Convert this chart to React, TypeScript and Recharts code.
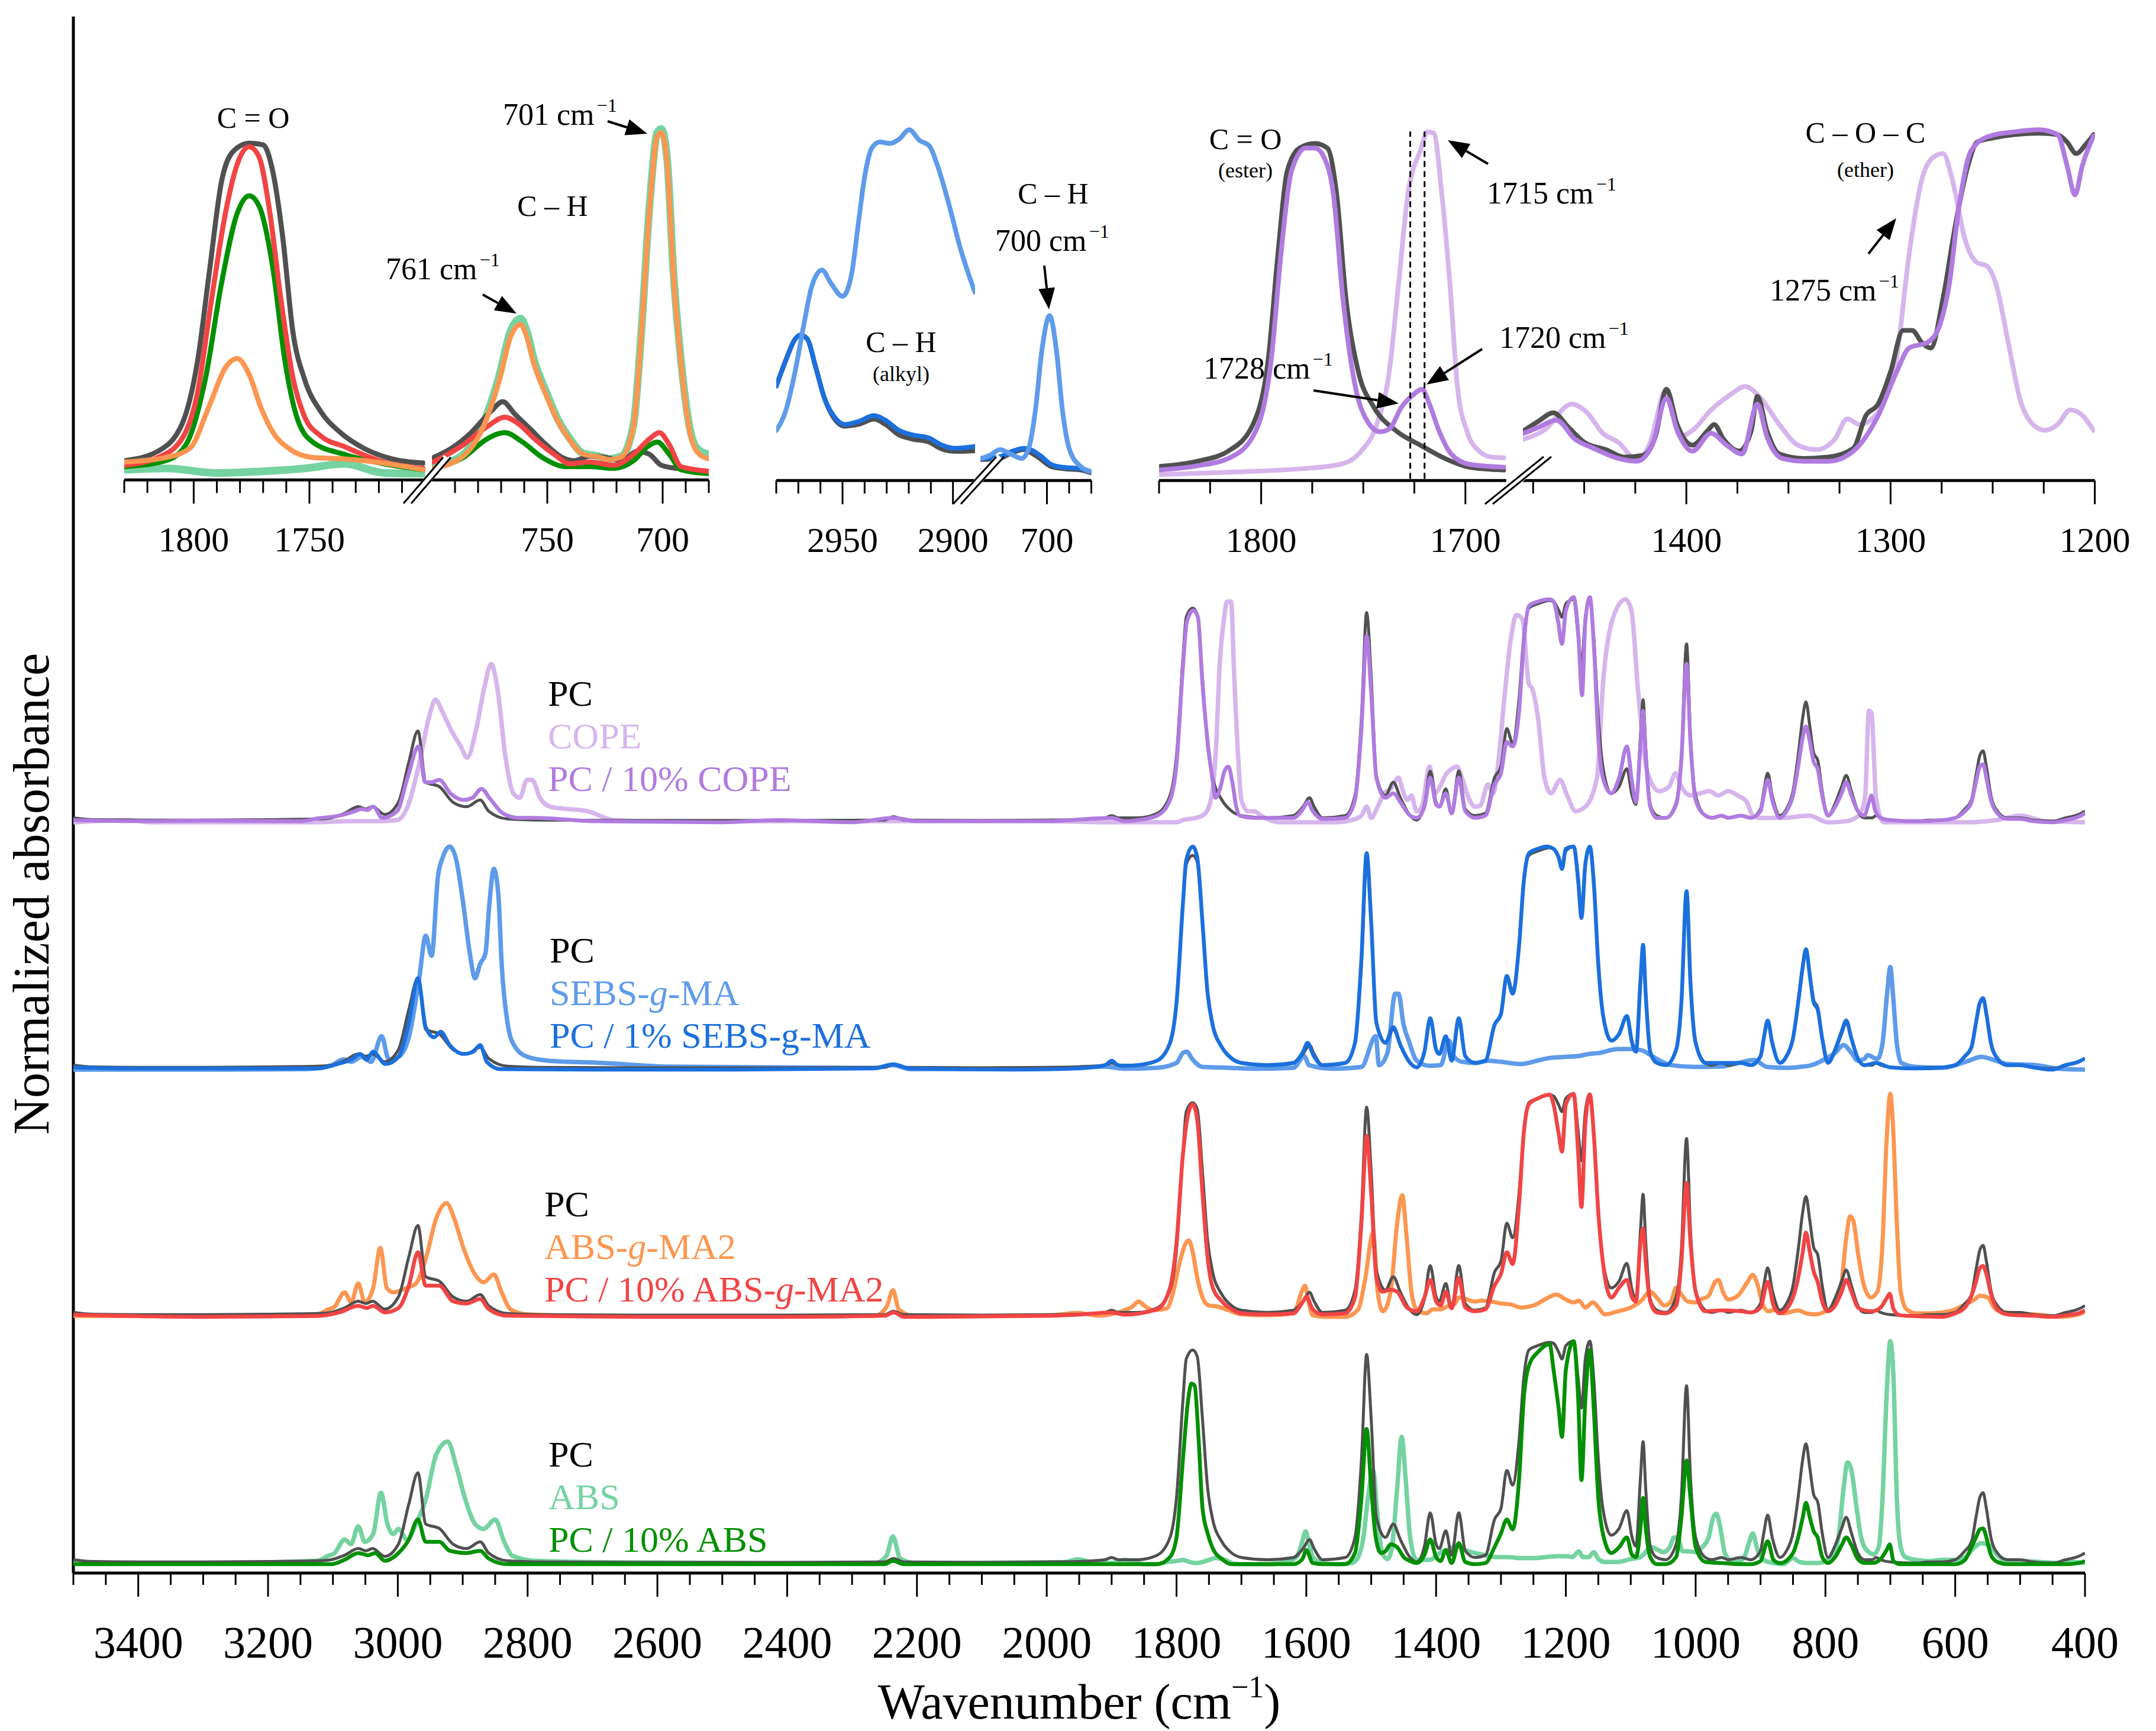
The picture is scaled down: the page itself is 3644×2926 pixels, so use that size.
import React from 'react';
import { LineChart, Line, XAxis, YAxis, ReferenceLine } from 'recharts';

type Pt = [number, number];

const FONT = "'Liberation Serif', 'Times New Roman', Times, serif";

const COLORS = {
  pc: '#505050',
  cope: '#D6B5EC',
  pcCope: '#B07BE0',
  sebs: '#5E9BEA',
  pcSebs: '#1B70DD',
  absgma: '#FC9650',
  pcAbsgma: '#F24444',
  abs: '#74D3A0',
  pcAbs: '#009000',
};

// ---------------- main spectra (normalized 0..1 within each group) ----------------
const pcSpectrum: Pt[] = [
  [3500, .02], [3470, .012], [3400, .01], [3300, .01], [3200, .012], [3124, .015], [3103, .02], [3082, .04], [3061, .07], [3049, .06], [3039, .07], [3020, .035], [2999, .09], [2983, .27], [2969, .41], [2957, .18], [2936, .16], [2915, .09], [2894, .07], [2873, .10], [2860, .05], [2831, .015], [2780, .01], [2600, .008], [2400, .008], [2250, .01], [2236, .025], [2220, .01], [2100, .008], [2000, .01], [1952, .012], [1910, .02], [1900, .03], [1890, .02],
  [1880, .02], [1860, .02], [1830, .04], [1810, .12], [1800, .30], [1790, .74], [1785, .92], [1775, .96], [1768, .93], [1760, .65], [1752, .34], [1745, .21], [1730, .10], [1715, .05], [1700, .03], [1660, .02], [1620, .03], [1605, .07], [1595, .11], [1588, .07], [1575, .02], [1540, .03], [1525, .12], [1515, .47], [1507, .94], [1500, .65], [1492, .21], [1478, .12], [1466, .18], [1455, .11], [1440, .03], [1430, .01], [1418, .08], [1409, .23], [1400, .09], [1395, .07], [1385, .15], [1376, .04], [1365, .23], [1355, .06], [1340, .03], [1324, .04], [1310, .20], [1300, .25], [1291, .42], [1282, .355], [1272, .56], [1265, .83], [1257, .96], [1243, .98], [1225, .995], [1219, .99], [1211, .95], [1206, .92], [1200, .98], [1188, 1.0], [1181, .83], [1176, .70], [1170, .92], [1163, 1.0], [1157, .83], [1150, .47], [1143, .25], [1130, .13], [1118, .16], [1106, .24], [1098, .12], [1092, .08], [1085, .39], [1081, .55], [1077, .34], [1070, .08], [1060, .03], [1046, .02], [1030, .09], [1022, .30], [1014, .80], [1008, .39], [1000, .12], [985, .03], [975, .02], [960, .03], [950, .02], [930, .03], [915, .02], [900, .06], [895, .14], [889, .22], [882, .12], [870, .03], [860, .06], [850, .14], [842, .30], [835, .47], [830, .54], [824, .43], [818, .31], [812, .28], [805, .14], [796, .03], [785, .085], [775, .16], [768, .21], [760, .14], [750, .05], [740, .02], [728, .02], [722, .03], [715, .02], [700, .01], [660, .005], [640, .01], [620, .01], [600, .02], [585, .06], [575, .10], [568, .21], [562, .30], [557, .32], [552, .25], [545, .12], [535, .05], [520, .02], [500, .02], [480, .01], [450, .005], [430, .02], [410, .035], [400, .05],
];

const copeSpectrum: Pt[] = [
  [3500, 0], [3416, .01], [3380, 0], [3278, 0], [3139, 0], [3066, .005], [3033, .005], [3001, .01], [2985, .07], [2968, .25], [2952, .47], [2942, .55], [2932, .50], [2919, .42], [2903, .34], [2893, .29], [2879, .42], [2867, .60], [2856, .71], [2846, .59], [2834, .29], [2822, .13], [2812, .11], [2801, .19], [2793, .19], [2781, .11], [2765, .07], [2740, .06], [2708, .05], [2667, .01], [2600, .005], [2400, .005], [2200, .005], [2000, .005], [1900, 0],
  [1880, 0], [1800, 0], [1790, .01], [1770, .02], [1760, .03], [1750, .07], [1740, .29], [1733, .73], [1727, .91], [1722, .99], [1716, .99], [1711, .65], [1705, .29], [1700, .10], [1690, .05], [1680, .05], [1670, .03], [1640, 0], [1560, 0], [1530, .01], [1515, .03], [1507, .07], [1500, .02], [1490, .07], [1480, .13], [1470, .15], [1458, .20], [1450, .13], [1444, .10], [1438, .12], [1430, .05], [1422, .07], [1410, .25], [1402, .13], [1394, .16], [1386, .21], [1376, .24], [1368, .25], [1360, .20], [1350, .11], [1340, .07], [1332, .075], [1320, .17], [1312, .13], [1303, .30], [1295, .55], [1285, .82], [1276, .93], [1267, .91], [1257, .62], [1252, .60], [1243, .47], [1233, .20], [1223, .13], [1209, .19], [1198, .12], [1185, .05], [1170, .07], [1152, .20], [1142, .65], [1123, .95], [1108, 1.0], [1099, .95], [1089, .60], [1075, .23], [1056, .14], [1041, .16], [1031, .22], [1022, .16], [1008, .12], [993, .13], [979, .14], [965, .12], [950, .14], [935, .12], [921, .09], [912, .03], [900, .02], [864, .02], [825, .03], [796, 0], [768, .005], [749, .03], [739, .11], [733, .50], [729, .49], [722, .11], [710, 0], [672, 0], [633, 0], [580, 0], [537, .01], [499, .03], [461, .005], [400, 0],
];

const pcCopeSpectrum: Pt[] = [
  [3500, .01], [3400, .005], [3300, .008], [3150, .005], [3123, .018], [3090, .03], [3066, .05], [3056, .06], [3047, .055], [3038, .07], [3024, .02], [3001, .05], [2985, .20], [2968, .34], [2958, .18], [2948, .18], [2936, .19], [2919, .13], [2899, .10], [2885, .11], [2871, .15], [2859, .11], [2838, .04], [2814, .02], [2789, .02], [2700, .005], [2500, 0], [2415, .01], [2300, 0], [2236, .02], [2200, .005], [2000, .005], [1900, .02],
  [1880, .005], [1860, .01], [1830, .03], [1810, .10], [1800, .26], [1790, .70], [1784, .90], [1774, .95], [1767, .92], [1760, .62], [1752, .36], [1745, .20], [1740, .11], [1733, .15], [1726, .23], [1720, .25], [1714, .18], [1708, .07], [1703, .03], [1680, .02], [1620, .02], [1605, .06], [1598, .09], [1590, .05], [1575, .015], [1540, .02], [1525, .10], [1515, .42], [1507, .835], [1500, .58], [1492, .20], [1478, .11], [1466, .13], [1455, .09], [1440, .03], [1430, .02], [1418, .07], [1409, .20], [1400, .08], [1395, .07], [1385, .13], [1376, .04], [1365, .20], [1355, .05], [1340, .02], [1324, .03], [1310, .17], [1300, .22], [1291, .36], [1282, .34], [1272, .50], [1265, .80], [1257, .97], [1243, .99], [1225, 1.0], [1219, .99], [1212, .90], [1206, .80], [1200, .95], [1188, 1.01], [1181, .85], [1175, .57], [1170, .90], [1163, 1.01], [1157, .80], [1150, .38], [1143, .20], [1130, .13], [1118, .20], [1106, .34], [1098, .18], [1092, .09], [1085, .35], [1081, .50], [1077, .30], [1070, .07], [1060, .02], [1046, .02], [1030, .08], [1022, .28], [1014, .71], [1008, .36], [1000, .10], [985, .03], [975, .02], [960, .03], [950, .02], [930, .03], [915, .02], [900, .05], [895, .12], [889, .19], [882, .10], [870, .02], [860, .05], [850, .12], [842, .25], [835, .38], [830, .43], [824, .36], [818, .27], [812, .24], [805, .12], [796, .03], [785, .07], [775, .13], [768, .18], [760, .12], [750, .05], [740, .03], [733, .09], [729, .12], [724, .06], [715, .02], [700, .01], [660, .005], [620, .01], [600, .02], [585, .05], [575, .09], [568, .18], [562, .25], [557, .26], [552, .20], [545, .10], [535, .04], [520, .015], [500, .015], [480, .005], [450, 0], [430, .01], [410, .025], [400, .04],
];

const sebsSpectrum: Pt[] = [
  [3500, 0], [3300, 0], [3145, .002], [3103, .018], [3084, .046], [3072, .035], [3056, .057], [3041, .035], [3025, .15], [3014, .046], [2999, .057], [2983, .145], [2967, .41], [2957, .60], [2948, .51], [2938, .87], [2931, .95], [2920, 1.0], [2910, .94], [2899, .74], [2889, .52], [2881, .41], [2873, .475], [2865, .52], [2859, .74], [2852, .90], [2845, .78], [2840, .475], [2831, .21], [2821, .11], [2800, .057], [2768, .04], [2685, .03], [2580, .013], [2266, .007], [2237, .02], [2210, .002], [2000, .005], [1910, .013],
  [1880, .004], [1830, .008], [1800, .03], [1790, .075], [1784, .08], [1776, .048], [1760, .012], [1720, .008], [1680, .004], [1620, .008], [1603, .06], [1596, .02], [1560, .004], [1515, .012], [1493, .15], [1488, .02], [1475, .075], [1463, .34], [1458, .34], [1450, .20], [1442, .128], [1430, .04], [1410, .017], [1393, .02], [1380, .13], [1372, .057], [1360, .035], [1340, .03], [1320, .04], [1300, .035], [1270, .025], [1240, .043], [1225, .052], [1200, .057], [1180, .061], [1165, .07], [1150, .074], [1120, .092], [1100, .092], [1085, .088], [1060, .048], [1040, .021], [1000, .012], [960, .014], [940, .025], [910, .043], [890, .012], [860, .008], [840, .012], [820, .021], [800, .048], [785, .075], [772, .11], [760, .075], [750, .04], [740, .048], [735, .065], [720, .048], [712, .118], [705, .34], [700, .46], [696, .34], [690, .118], [683, .03], [660, .012], [620, .008], [580, .039], [560, .057], [540, .043], [520, .025], [480, .021], [440, .004], [400, 0],
];

const pcSebsSpectrum: Pt[] = [
  [3500, .01], [3400, .005], [3300, .005], [3124, .005], [3093, .025], [3072, .045], [3058, .07], [3048, .045], [3038, .08], [3019, .025], [2999, .057], [2983, .21], [2969, .41], [2957, .19], [2944, .145], [2934, .17], [2920, .11], [2899, .07], [2884, .08], [2873, .11], [2863, .035], [2842, .002], [2700, 0], [2500, 0], [2266, .005], [2237, .024], [2210, .005], [2050, 0], [1952, .005], [1910, .02], [1900, .04], [1890, .02],
  [1880, .017], [1860, .02], [1830, .04], [1810, .12], [1800, .30], [1790, .75], [1785, .94], [1775, 1.0], [1768, .95], [1760, .66], [1752, .34], [1745, .21], [1730, .10], [1715, .05], [1700, .03], [1660, .02], [1620, .03], [1605, .08], [1598, .12], [1590, .07], [1575, .02], [1540, .03], [1525, .12], [1515, .50], [1507, .97], [1500, .66], [1492, .21], [1478, .12], [1466, .19], [1455, .11], [1440, .03], [1430, .01], [1418, .08], [1409, .23], [1400, .09], [1395, .07], [1385, .15], [1376, .04], [1365, .23], [1355, .06], [1340, .03], [1324, .04], [1310, .20], [1300, .25], [1291, .42], [1282, .34], [1272, .56], [1265, .84], [1257, .97], [1243, .99], [1230, 1.0], [1219, .99], [1211, .95], [1206, .90], [1200, .99], [1188, 1.0], [1181, .85], [1176, .68], [1170, .92], [1163, 1.0], [1157, .84], [1150, .47], [1143, .25], [1130, .13], [1118, .16], [1106, .24], [1098, .12], [1092, .08], [1085, .40], [1081, .56], [1077, .34], [1070, .08], [1060, .03], [1046, .02], [1030, .09], [1022, .30], [1014, .80], [1008, .39], [1000, .12], [985, .03], [960, .03], [930, .03], [915, .02], [900, .06], [895, .14], [889, .22], [882, .12], [870, .03], [860, .06], [850, .14], [842, .30], [835, .46], [830, .54], [824, .42], [818, .30], [812, .27], [805, .14], [796, .03], [785, .09], [775, .17], [768, .22], [760, .14], [750, .05], [740, .02], [722, .03], [700, .01], [660, .005], [620, .01], [600, .02], [585, .06], [575, .10], [568, .21], [562, .30], [557, .32], [552, .25], [545, .12], [535, .05], [520, .02], [500, .02], [480, .01], [450, 0], [430, .02], [410, .035], [400, .05],
];

const absgmaSpectrum: Pt[] = [
  [3500, .004], [3300, .004], [3124, .011], [3108, .033], [3098, .044], [3082, .11], [3072, .066], [3061, .15], [3051, .066], [3038, .13], [3027, .31], [3017, .13], [3007, .11], [2999, .115], [2986, .13], [2972, .15], [2957, .26], [2941, .44], [2925, .51], [2913, .44], [2899, .31], [2881, .19], [2868, .155], [2852, .19], [2840, .11], [2826, .033], [2800, .011], [2700, .004], [2400, .004], [2266, .004], [2247, .044], [2237, .12], [2228, .033], [2200, 0], [2000, .005], [1952, .018], [1920, .005],
  [1880, .03], [1870, .042], [1858, .069], [1850, .051], [1835, .03], [1815, .038], [1805, .113], [1795, .246], [1785, .334], [1781, .343], [1775, .29], [1768, .175], [1760, .087], [1750, .051], [1738, .047], [1720, .03], [1700, .011], [1660, .007], [1620, .016], [1607, .113], [1602, .14], [1596, .06], [1590, .007], [1570, 0], [1540, 0], [1520, .034], [1510, .157], [1497, .378], [1490, .113], [1482, .025], [1470, .113], [1460, .42], [1452, .546], [1446, .378], [1438, .113], [1430, .034], [1415, .016], [1405, .034], [1393, .034], [1380, .051], [1372, .056], [1365, .087], [1357, .082], [1340, .069], [1330, .073], [1315, .069], [1300, .06], [1285, .056], [1270, .042], [1250, .051], [1230, .082], [1215, .10], [1200, .078], [1188, .065], [1180, .073], [1170, .042], [1158, .065], [1150, .042], [1140, .011], [1120, .025], [1100, .042], [1085, .069], [1070, .113], [1060, .087], [1048, .051], [1038, .069], [1030, .131], [1025, .113], [1012, .069], [1000, .065], [992, .078], [980, .095], [970, .157], [965, .166], [958, .113], [950, .078], [935, .095], [920, .157], [912, .188], [905, .149], [898, .069], [888, .025], [875, .034], [865, .016], [850, .025], [842, .029], [830, .016], [815, .011], [800, .025], [790, .042], [782, .069], [775, .157], [768, .352], [762, .45], [757, .431], [750, .29], [742, .157], [730, .087], [720, .113], [712, .334], [706, .776], [700, 1.0], [696, .865], [690, .423], [684, .113], [675, .034], [660, .016], [640, .016], [620, .02], [600, .034], [585, .056], [570, .078], [562, .095], [550, .087], [540, .042], [525, .02], [500, .016], [470, .009], [440, 0], [410, .011], [400, .025],
];

const pcAbsgmaSpectrum: Pt[] = [
  [3500, .01], [3300, 0], [3124, .004], [3090, .02], [3061, .05], [3048, .04], [3038, .05], [3020, .02], [2999, .04], [2983, .14], [2969, .29], [2957, .14], [2936, .14], [2915, .07], [2894, .06], [2873, .08], [2860, .035], [2831, .005], [2600, 0], [2400, 0], [2250, .005], [2236, .02], [2220, 0], [2000, .005], [1952, .01], [1900, .02],
  [1880, .01], [1830, .034], [1810, .131], [1800, .334], [1790, .732], [1782, .909], [1775, .953], [1768, .882], [1760, .555], [1752, .263], [1745, .14], [1730, .069], [1715, .034], [1700, .016], [1660, .011], [1620, .016], [1605, .069], [1600, .091], [1590, .034], [1575, .011], [1540, .016], [1525, .087], [1515, .423], [1507, .812], [1500, .555], [1492, .175], [1483, .113], [1470, .122], [1460, .113], [1445, .042], [1430, .025], [1418, .087], [1409, .166], [1400, .069], [1393, .051], [1385, .113], [1376, .038], [1365, .175], [1355, .042], [1340, .025], [1324, .034], [1310, .14], [1300, .193], [1291, .29], [1282, .237], [1272, .511], [1265, .82], [1257, .953], [1243, .98], [1225, .997], [1219, .953], [1211, .82], [1206, .741], [1200, .953], [1188, 1.0], [1181, .732], [1176, .493], [1170, .865], [1163, .997], [1157, .82], [1150, .467], [1143, .246], [1130, .087], [1118, .131], [1106, .166], [1098, .087], [1092, .069], [1085, .334], [1081, .396], [1077, .246], [1070, .069], [1060, .02], [1046, .016], [1030, .051], [1022, .246], [1014, .60], [1008, .334], [1000, .113], [985, .025], [960, .029], [930, .025], [915, .02], [900, .042], [889, .157], [880, .051], [870, .016], [850, .087], [842, .175], [835, .29], [830, .378], [824, .29], [818, .202], [812, .157], [805, .069], [796, .025], [785, .051], [775, .113], [768, .166], [760, .113], [750, .042], [740, .029], [728, .025], [715, .042], [705, .087], [701, .104], [695, .034], [685, .007], [660, .003], [620, 0], [600, .016], [585, .042], [575, .095], [568, .157], [562, .219], [557, .228], [552, .193], [545, .104], [535, .034], [520, .011], [500, .007], [480, .005], [450, 0], [430, .007], [410, .016], [400, .029],
];

const absSpectrum: Pt[] = [
  [3500, .004], [3300, .004], [3124, .015], [3108, .037], [3098, .048], [3082, .11], [3072, .09], [3061, .17], [3051, .10], [3038, .135], [3026, .32], [3016, .18], [3007, .135], [2999, .158], [2986, .11], [2972, .18], [2957, .29], [2941, .49], [2923, .55], [2910, .44], [2896, .29], [2881, .18], [2868, .158], [2850, .20], [2836, .10], [2823, .037], [2789, .015], [2700, .009], [2400, .004], [2266, .004], [2247, .037], [2237, .125], [2226, .026], [2200, .004], [1973, .009], [1952, .022], [1931, .009], [1900, .005],
  [1880, .019], [1865, .01], [1850, 0], [1830, 0], [1815, .01], [1800, .014], [1790, .019], [1780, .01], [1770, .005], [1755, .014], [1740, .027], [1725, .019], [1710, .001], [1690, 0], [1660, 0], [1630, .01], [1615, .032], [1607, .094], [1601, .147], [1596, .094], [1590, .032], [1575, .005], [1550, 0], [1530, .005], [1520, .032], [1512, .12], [1505, .297], [1497, .42], [1490, .209], [1483, .05], [1475, .023], [1468, .076], [1460, .341], [1453, .571], [1447, .386], [1440, .12], [1430, .019], [1410, .019], [1390, .058], [1380, .067], [1375, .076], [1365, .08], [1355, .063], [1340, .05], [1325, .041], [1310, .032], [1290, .032], [1270, .027], [1250, .027], [1230, .032], [1212, .036], [1200, .036], [1190, .032], [1180, .058], [1174, .032], [1165, .032], [1157, .054], [1150, .023], [1140, .01], [1120, .01], [1100, .023], [1085, .032], [1068, .076], [1060, .067], [1050, .054], [1040, .076], [1033, .12], [1028, .12], [1020, .058], [1012, .058], [1000, .054], [990, .076], [980, .12], [973, .209], [968, .226], [962, .164], [955, .05], [945, .014], [935, .01], [925, .032], [918, .094], [912, .138], [905, .067], [895, .019], [880, .005], [865, 0], [850, .027], [840, .01], [825, .005], [810, .005], [800, .014], [790, .032], [780, .12], [772, .341], [766, .456], [760, .421], [752, .253], [745, .12], [735, .058], [725, .045], [718, .076], [712, .297], [706, .739], [700, 1.0], [695, .828], [690, .297], [684, .076], [677, .032], [660, .019], [640, .014], [620, .019], [600, .019], [585, .032], [570, .076], [560, .094], [548, .085], [540, .058], [525, .019], [500, .014], [470, .01], [440, .005], [420, .01], [400, .005],
];

const pcAbsSpectrum: Pt[] = [
  [3500, 0], [3103, 0], [3082, .02], [3061, .05], [3046, .04], [3035, .05], [3020, .015], [2999, .05], [2983, .11], [2969, .20], [2957, .10], [2936, .10], [2920, .06], [2894, .05], [2873, .06], [2860, .025], [2831, 0], [2600, 0], [2400, 0], [2250, 0], [2237, .015], [2220, 0], [1900, 0],
  [1880, 0], [1830, 0], [1810, .032], [1800, .12], [1790, .474], [1782, .739], [1777, .81], [1772, .80], [1766, .562], [1760, .253], [1752, .138], [1745, .076], [1730, .023], [1715, 0], [1700, 0], [1620, 0], [1606, .023], [1600, .063], [1590, .005], [1575, 0], [1540, 0], [1525, .05], [1515, .297], [1507, .607], [1500, .341], [1493, .12], [1485, .05], [1478, .058], [1470, .089], [1460, .076], [1450, .032], [1440, .014], [1430, .005], [1418, .041], [1409, .111], [1400, .032], [1393, .014], [1385, .063], [1376, .005], [1365, .094], [1355, .01], [1340, 0], [1324, .005], [1310, .076], [1300, .138], [1291, .20], [1282, .156], [1272, .386], [1265, .739], [1257, .889], [1243, .951], [1225, .987], [1219, .872], [1211, .695], [1206, .571], [1200, .872], [1188, 1.0], [1181, .739], [1176, .377], [1170, .739], [1163, .96], [1157, .695], [1150, .297], [1143, .138], [1130, .05], [1118, .076], [1106, .12], [1098, .041], [1092, .032], [1085, .164], [1081, .297], [1077, .164], [1070, .032], [1060, 0], [1046, 0], [1030, .032], [1022, .209], [1014, .465], [1008, .297], [1000, .076], [985, .01], [960, .005], [930, 0], [915, 0], [900, .014], [889, .103], [880, .019], [870, .005], [850, .05], [842, .12], [835, .209], [830, .275], [824, .209], [818, .147], [812, .12], [805, .032], [796, .005], [785, .032], [775, .085], [768, .12], [760, .085], [750, .023], [740, .005], [728, .005], [715, .023], [705, .067], [701, .089], [695, .014], [685, 0], [660, 0], [620, 0], [600, 0], [585, .019], [575, .076], [568, .12], [562, .156], [557, .16], [552, .12], [545, .041], [535, .01], [520, 0], [500, 0], [450, 0], [430, 0], [410, .005], [400, .014],
];

// ---------------- inset 1 (ABS blends: C=O and C-H) ----------------
const i1PcL: Pt[] = [[1829.6, .055], [1815.4, .082], [1805, .16], [1798.3, .34], [1793.1, .60], [1788, .85], [1782.9, .937], [1776, .96], [1770, .955], [1765.7, .875], [1761.5, .69], [1757.2, .425], [1752, .285], [1745.2, .196], [1736.6, .135], [1726.4, .09], [1714.4, .06], [1700.7, .048]];
const i1RedL: Pt[] = [[1829.6, .042], [1815.4, .064], [1805.1, .117], [1798.3, .25], [1792.3, .514], [1786.3, .76], [1781.2, .90], [1776, .95], [1771.7, .92], [1767.5, .78], [1762.3, .514], [1757.2, .294], [1752, .179], [1745.2, .126], [1734.9, .095], [1717.8, .051], [1700.7, .033]];
const i1GreenL: Pt[] = [[1829.6, .038], [1812, .055], [1803.4, .10], [1794.9, .29], [1788, .56], [1781.2, .76], [1776, .81], [1771.7, .78], [1765.7, .60], [1760.6, .34], [1755.5, .18], [1748.6, .108], [1734.9, .073], [1717.8, .046], [1700.7, .029]];
const i1OrangeL: Pt[] = [[1829.6, .051], [1812, .064], [1801.7, .09], [1793.1, .214], [1786.3, .32], [1781.2, .346], [1776, .30], [1770.9, .205], [1765.7, .135], [1758.9, .09], [1748.6, .064], [1734.9, .06], [1721.2, .051], [1700.7, .029]];
const i1AbsL: Pt[] = [[1829.6, .029], [1812, .033], [1789.7, .02], [1769.2, .025], [1752, .033], [1734.9, .046], [1717.8, .02], [1700.7, .018]];
const i1PcR: Pt[] = [[799.3, .064], [791.6, .09], [783, .135], [774.4, .196], [769.3, .223], [764.1, .188], [757.2, .144], [750.4, .10], [743.5, .064], [738.4, .055], [731.5, .068], [724.6, .064], [717.8, .055], [710.9, .082], [705.7, .073], [700.6, .042], [693.7, .033], [686.8, .029], [680, .02]];
const i1RedR: Pt[] = [[799.3, .051], [786.4, .10], [776.1, .152], [768.4, .179], [762.4, .16], [755.5, .117], [747, .073], [740.1, .046], [731.5, .051], [721.2, .042], [712.6, .073], [705.7, .117], [701.4, .135], [697.1, .10], [692, .038], [680, .025]];
const i1GreenR: Pt[] = [[799.3, .033], [786.4, .064], [776.1, .117], [768.4, .135], [760.7, .108], [752.1, .064], [741.8, .038], [731.5, .038], [721.2, .033], [712.6, .055], [706.6, .095], [702.3, .108], [697.1, .073], [692, .029], [680, .018]];
const i1AbsR: Pt[] = [[799.3, .038], [786.4, .073], [777.8, .16], [771, .293], [765.8, .426], [761.5, .46], [759, .426], [755.5, .337], [750.4, .25], [745.2, .17], [740.1, .117], [734.9, .077], [728.1, .068], [722.9, .06], [717.8, .068], [712.6, .16], [709.2, .426], [705.7, .78], [702.3, .99], [700.6, 1.0], [698, .91], [695.4, .60], [692, .337], [688.6, .16], [685.1, .09], [680, .073]];
const i1OrangeR: Pt[] = [[799.3, .033], [786.4, .068], [777.8, .15], [771, .28], [765.8, .41], [761.5, .443], [759, .41], [755.5, .325], [750.4, .24], [745.2, .165], [740.1, .112], [734.9, .075], [728.1, .066], [722.9, .058], [717.8, .066], [712.6, .155], [709.2, .42], [705.7, .77], [702.3, .98], [700.6, .99], [698, .90], [695.4, .59], [692, .33], [688.6, .15], [685.1, .08], [680, .06]];

// ---------------- inset 2 (SEBS blend: C-H alkyl and aromatic) ----------------
const i2SebsL: Pt[] = [[2980, .143], [2975.6, .201], [2971.5, .31], [2967.5, .445], [2963.9, .554], [2959.3, .60], [2955.2, .562], [2950, .525], [2945.9, .588], [2942.9, .73], [2939.8, .873], [2936.7, .948], [2933.1, .965], [2928.5, .961], [2924.4, .973], [2919.8, 1.0], [2915.2, .97], [2910.6, .953], [2907, .898], [2901.9, .789], [2896.7, .663], [2890.1, .537]];
const i2BlueL: Pt[] = [[2980, .269], [2975.6, .344], [2971.5, .403], [2969, .415], [2965.9, .403], [2962.3, .327], [2958.2, .235], [2954.1, .185], [2949, .16], [2942.9, .168], [2935.7, .185], [2930.6, .172], [2924.4, .143], [2918.3, .13], [2911.1, .122], [2905, .101], [2898.8, .092], [2890.1, .097]];
const i2PcL: Pt[] = [[2980, .269], [2975.6, .344], [2971.5, .403], [2969, .415], [2965.9, .403], [2962.3, .327], [2958.2, .235], [2954.1, .18], [2949, .155], [2942.9, .16], [2935.7, .175], [2930.6, .16], [2924.4, .13], [2918.3, .118], [2911.1, .11], [2905, .09], [2898.8, .083], [2890.1, .085]];
const i2SebsR: Pt[] = [[729.7, .063], [725.7, .072], [721.1, .088], [716.5, .076], [711.4, .063], [708.3, .09], [705.2, .20], [702.3, .37], [698.8, .47], [695.7, .37], [693, .20], [689.9, .09], [684.8, .04], [680, .025]];
const i2BlueR: Pt[] = [[729.7, .063], [721.6, .067], [715.4, .084], [710.3, .092], [707.3, .088], [703.2, .072], [698.1, .046], [693, .038], [684.8, .034], [680, .025]];
const i2PcR: Pt[] = [[729.7, .06], [721.6, .063], [715.4, .08], [710.3, .088], [707.3, .08], [703.2, .063], [698.1, .04], [693, .034], [684.8, .03], [680, .022]];

// ---------------- inset 3 (COPE blend: C=O ester and C-O-C ether) ----------------
const i3PcL: Pt[] = [[1850, .04], [1831.2, .055], [1816.1, .084], [1804, .16], [1796.4, .353], [1791.8, .646], [1787.3, .881], [1781.2, .948], [1773.6, .961], [1767.6, .948], [1763, .814], [1758.5, .52], [1752.4, .31], [1744.9, .21], [1734.2, .143], [1722.1, .101], [1710, .063], [1697.9, .038], [1681.2, .03]];
const i3PurpleL: Pt[] = [[1850, .03], [1831.2, .042], [1816.1, .063], [1804, .126], [1794.9, .353], [1790.3, .646], [1785.2, .881], [1778.2, .948], [1773.6, .948], [1769.1, .92], [1764.6, .814], [1760, .52], [1753.9, .268], [1747.9, .168], [1741.8, .139], [1737.3, .147], [1731.2, .21], [1725.8, .243], [1721.2, .26], [1717.6, .218], [1713, .143], [1707, .076], [1697.9, .046], [1681.2, .038]];
const i3CopeL: Pt[] = [[1850, .017], [1810, .025], [1779.7, .034], [1761.5, .046], [1751, .084], [1743.4, .16], [1737.3, .31], [1732.7, .562], [1728.2, .814], [1722.1, .94], [1718.5, .994], [1715.5, .99], [1711.5, .814], [1707.6, .562], [1703.9, .268], [1699.4, .143], [1693.3, .084], [1687.3, .067], [1681.2, .065]];
const i3PcR: Pt[] = [[1479.4, .143], [1472.7, .168], [1465.1, .193], [1457.6, .151], [1450, .109], [1439.4, .088], [1430.3, .067], [1421.2, .072], [1415.1, .126], [1409.7, .26], [1404.5, .16], [1397, .101], [1389.4, .143], [1386.4, .16], [1381.8, .118], [1374.2, .084], [1368.2, .143], [1365.2, .24], [1360.6, .143], [1354.5, .076], [1342.4, .063], [1330.3, .067], [1318.2, .092], [1312.1, .185], [1306.1, .218], [1300, .31], [1293.9, .428], [1289.4, .428], [1284.8, .394], [1280.3, .378], [1274.3, .52], [1268.2, .73], [1262.1, .898], [1257.6, .965], [1248.5, .978], [1239.4, .986], [1227.3, .99], [1218.2, .986], [1213.6, .965], [1209.1, .932], [1204.6, .957], [1200.6, .986]];
const i3PurpleR: Pt[] = [[1479.4, .135], [1472.7, .151], [1463.6, .172], [1454.5, .118], [1445.4, .092], [1433.3, .063], [1424.2, .055], [1416.7, .101], [1409.7, .235], [1404.5, .143], [1397, .084], [1387.9, .135], [1380.3, .101], [1372.7, .076], [1365.2, .218], [1360.6, .126], [1353, .063], [1342.4, .055], [1330.3, .055], [1318.2, .084], [1306.1, .185], [1297, .31], [1290.9, .378], [1281.8, .394], [1275.8, .445], [1271.2, .562], [1266.7, .772], [1260.6, .94], [1251.5, .982], [1239.4, .994], [1227.3, 1.0], [1218.2, .986], [1213.6, .898], [1209.7, .814], [1206.1, .898], [1200.6, .982]];
const i3CopeR: Pt[] = [[1479.4, .118], [1469.7, .143], [1456.1, .218], [1448.5, .193], [1440.9, .135], [1433.3, .109], [1424.2, .059], [1418.2, .101], [1409.7, .26], [1403, .126], [1397, .143], [1387.9, .201], [1378.8, .243], [1371.2, .268], [1363.6, .235], [1354.5, .16], [1345.4, .101], [1336.4, .088], [1327.3, .118], [1321.2, .176], [1315.2, .16], [1309.1, .176], [1303, .227], [1297, .352], [1290.9, .646], [1284.8, .856], [1278.8, .923], [1274.3, .932], [1269.7, .856], [1263.6, .688], [1257.6, .621], [1253, .612], [1248.5, .562], [1242.4, .394], [1236.4, .227], [1230.3, .16], [1224.3, .143], [1218.2, .16], [1212.1, .201], [1207.6, .193], [1200.6, .143]];

// ---------------- ticks ----------------
const mainTicks = [3500, 3450, 3400, 3350, 3300, 3250, 3200, 3150, 3100, 3050, 3000, 2950, 2900, 2850, 2800, 2750, 2700, 2650, 2600, 2550, 2500, 2450, 2400, 2350, 2300, 2250, 2200, 2150, 2100, 2050, 2000, 1950, 1900, 1850, 1800, 1750, 1700, 1650, 1600, 1550, 1500, 1450, 1400, 1350, 1300, 1250, 1200, 1150, 1100, 1050, 1000, 950, 900, 850, 800, 750, 700, 650, 600, 550, 500, 450, 400];
const mainMajorTicks = [3400, 3200, 3000, 2800, 2600, 2400, 2200, 2000, 1800, 1600, 1400, 1200, 1000, 800, 600, 400];
const i1LeftTicks = [1830, 1820, 1810, 1800, 1790, 1780, 1770, 1760, 1750, 1740, 1730, 1720, 1710];
const i1LeftMajor = [1800, 1750];
const i1RightTicks = [790, 780, 770, 760, 750, 740, 730, 720, 710, 700, 690, 680];
const i1RightMajor = [750, 700];
const i2LeftTicks = [2980, 2970, 2960, 2950, 2940, 2930, 2920, 2910, 2900];
const i2LeftMajor = [2950, 2900];
const i2RightTicks = [720, 710, 700, 690, 680];
const i2RightMajor = [700];
const i3LeftTicks = [1850, 1825, 1800, 1775, 1750, 1725, 1700];
const i3LeftMajor = [1800, 1700];
const i3RightTicks = [1475, 1450, 1425, 1400, 1375, 1350, 1325, 1300, 1275, 1250, 1225, 1200];
const i3RightMajor = [1400, 1300, 1200];
const i3Markers = [1727, 1720];

// ---------------- layout ----------------
const W = 3644;
const H = 2926;
const PLOT_LEFT = 124;
const PLOT_RIGHT = 3524;
const PLOT_TOP = 28;
const PLOT_BOTTOM = 2659;
const GROUP_SCALE = 377;
const BASE = { cope: 1269, sebs: 851, absgma: 433, abs: 15 };
const INSET_UNIT = 593;

const toRows = (pts: Pt[], base = 0, scale = 1) => pts.map(([x, v]) => ({ x, y: base + v * scale }));

const renderTick = (majors: number[], majorLen: number, minorLen: number, fontSize: number, labelDy: number) =>
  (props: any) => {
    const { x, y, payload } = props;
    const v = payload ? payload.value : 0;
    const isMajor = majors.includes(v);
    return (
      <g>
        <line x1={x} x2={x} y1={y} y2={y + (isMajor ? majorLen : minorLen)} stroke="#000" strokeWidth={3} />
        {isMajor ? (
          <text x={x} y={y + labelDy} textAnchor="middle" fontSize={fontSize} fontFamily={FONT} fill="#000">{v}</text>
        ) : null}
      </g>
    );
  };

type SeriesDef = { name: string; pts: Pt[]; base: number; color: string; w: number };

const mainSeries: SeriesDef[] = [
  { name: 'COPE', pts: copeSpectrum, base: BASE.cope, color: COLORS.cope, w: 7.5 },
  { name: 'PC-a', pts: pcSpectrum, base: BASE.cope, color: COLORS.pc, w: 5 },
  { name: 'PC / 10% COPE', pts: pcCopeSpectrum, base: BASE.cope, color: COLORS.pcCope, w: 6.5 },
  { name: 'SEBS-g-MA', pts: sebsSpectrum, base: BASE.sebs, color: COLORS.sebs, w: 7.5 },
  { name: 'PC-b', pts: pcSpectrum, base: BASE.sebs, color: COLORS.pc, w: 5 },
  { name: 'PC / 1% SEBS-g-MA', pts: pcSebsSpectrum, base: BASE.sebs, color: COLORS.pcSebs, w: 6.5 },
  { name: 'ABS-g-MA2', pts: absgmaSpectrum, base: BASE.absgma, color: COLORS.absgma, w: 7 },
  { name: 'PC-c', pts: pcSpectrum, base: BASE.absgma, color: COLORS.pc, w: 5 },
  { name: 'PC / 10% ABS-g-MA2', pts: pcAbsgmaSpectrum, base: BASE.absgma, color: COLORS.pcAbsgma, w: 6.5 },
  { name: 'ABS', pts: absSpectrum, base: BASE.abs, color: COLORS.abs, w: 7.5 },
  { name: 'PC-d', pts: pcSpectrum, base: BASE.abs, color: COLORS.pc, w: 5 },
  { name: 'PC / 10% ABS', pts: pcAbsSpectrum, base: BASE.abs, color: COLORS.pcAbs, w: 6.5 },
];

type InsetSeries = { name: string; pts: Pt[]; color: string; w: number };

function Inset(props: {
  x0: number; x1: number; axisY: number; domain: [number, number];
  ticks: number[]; majors: number[]; series: InsetSeries[]; markers?: number[];
}) {
  const { x0, x1, axisY, domain, ticks, majors, series, markers } = props;
  const pad = 70;
  const plotH = 1.1 * INSET_UNIT;
  const top = axisY - plotH;
  const bottomPad = 150;
  return (
    <div style={{ position: 'absolute', left: x0 - pad, top }}>
      <LineChart width={x1 - x0 + 2 * pad} height={plotH + bottomPad} margin={{ top: 0, right: pad, bottom: 0, left: pad }}>
        <XAxis
          type="number" dataKey="x" domain={domain} reversed allowDataOverflow
          ticks={ticks} interval={0} tickSize={0} tickMargin={0} height={bottomPad}
          axisLine={{ stroke: '#000', strokeWidth: 5 }} tickLine={false}
          tick={renderTick(majors, 40, 22, 60, 121)}
        />
        <YAxis hide type="number" domain={[0, 1.1]} allowDataOverflow />
        {series.map((s) => (
          <Line key={s.name} data={toRows(s.pts)} dataKey="y" type="monotone" stroke={s.color} strokeWidth={s.w}
            dot={false} activeDot={false} isAnimationActive={false} strokeLinejoin="round" strokeLinecap="round" />
        ))}
        {(markers || []).map((m) => (
          <ReferenceLine key={m} segment={[{ x: m, y: 0.005 }, { x: m, y: 0.995 }]} stroke="#000" strokeWidth={3} strokeDasharray="10 7" ifOverflow="visible" />
        ))}
      </LineChart>
    </div>
  );
}

function Arrow({ x1, y1, x2, y2 }: { x1: number; y1: number; x2: number; y2: number }) {
  const a = Math.atan2(y2 - y1, x2 - x1);
  const L = 36;
  const hw = 14;
  const bx = x2 - L * Math.cos(a);
  const by = y2 - L * Math.sin(a);
  const px = -Math.sin(a) * hw;
  const py = Math.cos(a) * hw;
  return (
    <g>
      <line x1={x1} y1={y1} x2={bx} y2={by} stroke="#000" strokeWidth={4} />
      <polygon points={`${x2},${y2} ${bx + px},${by + py} ${bx - px},${by - py}`} fill="#000" />
    </g>
  );
}

function BreakMark({ x1, y1, x2, y2 }: { x1: number; y1: number; x2: number; y2: number }) {
  const g = 13;
  return (
    <g>
      <line x1={x1 + g / 2} y1={y1} x2={x2 + g / 2} y2={y2} stroke="#fff" strokeWidth={g} />
      <line x1={x1} y1={y1} x2={x2} y2={y2} stroke="#000" strokeWidth={3} />
      <line x1={x1 + g} y1={y1} x2={x2 + g} y2={y2} stroke="#000" strokeWidth={3} />
    </g>
  );
}

function Cm({ x, y, value, size }: { x: number; y: number; value: string; size: number }) {
  return (
    <text x={x} y={y} fontSize={size} fontFamily={FONT} fill="#000">
      {value} cm<tspan dx={4} dy={-size * 0.42} fontSize={size * 0.62}>−1</tspan>
    </text>
  );
}

const legendGroups = [
  { x: 926, y: 1193, lines: [{ t: 'PC', c: '#000' }, { t: 'COPE', c: COLORS.cope }, { t: 'PC / 10% COPE', c: COLORS.pcCope }] },
  { x: 929, y: 1627, lines: [{ t: 'PC', c: '#000' }, { t: 'SEBS-|g|-MA', c: COLORS.sebs }, { t: 'PC / 1% SEBS-g-MA', c: COLORS.pcSebs }] },
  { x: 920, y: 2056, lines: [{ t: 'PC', c: '#000' }, { t: 'ABS-|g|-MA2', c: COLORS.absgma }, { t: 'PC / 10% ABS-|g|-MA2', c: COLORS.pcAbsgma }] },
  { x: 927, y: 2479, lines: [{ t: 'PC', c: '#000' }, { t: 'ABS', c: COLORS.abs }, { t: 'PC / 10% ABS', c: COLORS.pcAbs }] },
];

function LegendText({ x, y, t, c }: { x: number; y: number; t: string; c: string }) {
  const parts = t.split('|');
  return (
    <text x={x} y={y} fontSize={62} fontFamily={FONT} fill={c}>
      {parts.map((p, i) => (
        <tspan key={i} fontStyle={i % 2 === 1 ? 'italic' : 'normal'}>{p}</tspan>
      ))}
    </text>
  );
}

export default function App() {
  return (
    <div style={{ position: 'absolute', left: 0, top: 0, width: W, height: H, background: '#fff', overflow: 'hidden' }}>
      <div style={{ position: 'absolute', left: 0, top: 0 }}>
        <LineChart width={W} height={H} margin={{ top: PLOT_TOP, right: W - PLOT_RIGHT, bottom: H - PLOT_BOTTOM - 200, left: PLOT_LEFT }}>
          <XAxis
            type="number" dataKey="x" domain={[400, 3500]} reversed allowDataOverflow
            ticks={mainTicks} interval={0} tickSize={0} tickMargin={0} height={200}
            axisLine={{ stroke: '#000', strokeWidth: 5 }} tickLine={false}
            tick={renderTick(mainMajorTicks, 40, 20, 76, 143)}
          />
          <YAxis hide type="number" domain={[0, PLOT_BOTTOM - PLOT_TOP]} allowDataOverflow />
          <ReferenceLine x={3500} stroke="#000" strokeWidth={5} ifOverflow="visible" />
          {mainSeries.map((s) => (
            <Line key={s.name} data={toRows(s.pts, s.base, GROUP_SCALE)} dataKey="y" type="monotone" stroke={s.color}
              strokeWidth={s.w} dot={false} activeDot={false} isAnimationActive={false} strokeLinejoin="round" />
          ))}
        </LineChart>
      </div>

      <Inset x0={209.9} x1={718.5} axisY={811} domain={[1700, 1830]} ticks={i1LeftTicks} majors={i1LeftMajor}
        series={[
          { name: 'ABS', pts: i1AbsL, color: COLORS.abs, w: 13 },
          { name: 'PC', pts: i1PcL, color: COLORS.pc, w: 8.5 },
          { name: 'PC/ABS', pts: i1GreenL, color: COLORS.pcAbs, w: 8.5 },
          { name: 'PC/ABS-g-MA2', pts: i1RedL, color: COLORS.pcAbsgma, w: 8.5 },
          { name: 'ABS-g-MA2', pts: i1OrangeL, color: COLORS.absgma, w: 8.5 },
        ]} />
      <Inset x0={729.7} x1={1197.7} axisY={811} domain={[680, 800]} ticks={i1RightTicks} majors={i1RightMajor}
        series={[
          { name: 'ABS', pts: i1AbsR, color: COLORS.abs, w: 13 },
          { name: 'PC', pts: i1PcR, color: COLORS.pc, w: 8.5 },
          { name: 'PC/ABS', pts: i1GreenR, color: COLORS.pcAbs, w: 8.5 },
          { name: 'PC/ABS-g-MA2', pts: i1RedR, color: COLORS.pcAbsgma, w: 8.5 },
          { name: 'ABS-g-MA2', pts: i1OrangeR, color: COLORS.absgma, w: 8.5 },
        ]} />
      <Inset x0={1312} x1={1648} axisY={812} domain={[2890, 2980]} ticks={i2LeftTicks} majors={i2LeftMajor}
        series={[
          { name: 'PC', pts: i2PcL, color: COLORS.pc, w: 8 },
          { name: 'PC/SEBS', pts: i2BlueL, color: COLORS.pcSebs, w: 8 },
          { name: 'SEBS', pts: i2SebsL, color: COLORS.sebs, w: 8 },
        ]} />
      <Inset x0={1656.5} x1={1844} axisY={812} domain={[680, 730]} ticks={i2RightTicks} majors={i2RightMajor}
        series={[
          { name: 'PC', pts: i2PcR, color: COLORS.pc, w: 8 },
          { name: 'PC/SEBS', pts: i2BlueR, color: COLORS.pcSebs, w: 8 },
          { name: 'SEBS', pts: i2SebsR, color: COLORS.sebs, w: 8 },
        ]} />
      <Inset x0={1958.8} x1={2545.6} axisY={812} domain={[1680, 1850]} ticks={i3LeftTicks} majors={i3LeftMajor} markers={i3Markers}
        series={[
          { name: 'COPE', pts: i3CopeL, color: COLORS.cope, w: 8 },
          { name: 'PC', pts: i3PcL, color: COLORS.pc, w: 8 },
          { name: 'PC/COPE', pts: i3PurpleL, color: COLORS.pcCope, w: 8 },
        ]} />
      <Inset x0={2573.8} x1={3540.4} axisY={812} domain={[1200, 1480]} ticks={i3RightTicks} majors={i3RightMajor}
        series={[
          { name: 'COPE', pts: i3CopeR, color: COLORS.cope, w: 8 },
          { name: 'PC', pts: i3PcR, color: COLORS.pc, w: 8 },
          { name: 'PC/COPE', pts: i3PurpleR, color: COLORS.pcCope, w: 8 },
        ]} />

      <svg width={W} height={H} style={{ position: 'absolute', left: 0, top: 0, pointerEvents: 'none' }}>
        {/* axis titles */}
        <text transform="translate(82,1511) rotate(-90)" textAnchor="middle" fontSize={86} fontFamily={FONT} fill="#000">Normalized absorbance</text>
        <text x={1824} y={2905} textAnchor="middle" fontSize={84} fontFamily={FONT} fill="#000">
          Wavenumber (cm<tspan dy={-36} fontSize={52}>−1</tspan><tspan dy={36}>)</tspan>
        </text>

        {/* legends */}
        {legendGroups.map((g, gi) => (
          <g key={gi}>
            {g.lines.map((l, li) => (
              <LegendText key={li} x={g.x} y={g.y + li * 72} t={l.t} c={l.c} />
            ))}
          </g>
        ))}

        {/* break marks */}
        <BreakMark x1={682} y1={851} x2={749} y2={773} />
        <BreakMark x1={1611} y1={852} x2={1684} y2={772} />
        <BreakMark x1={2510} y1={852} x2={2609} y2={772} />

        {/* inset 1 annotations */}
        <text x={428} y={216} textAnchor="middle" fontSize={50} fontFamily={FONT}>C = O</text>
        <text x={934} y={365} textAnchor="middle" fontSize={50} fontFamily={FONT}>C – H</text>
        <Cm x={652} y={472} value="761" size={52} />
        <Arrow x1={816} y1={498} x2={873} y2={530} />
        <Cm x={850} y={211} value="701" size={52} />
        <Arrow x1={1027} y1={205} x2={1094} y2={226} />

        {/* inset 2 annotations */}
        <text x={1523} y={595} textAnchor="middle" fontSize={50} fontFamily={FONT}>C – H</text>
        <text x={1523} y={644} textAnchor="middle" fontSize={36} fontFamily={FONT}>(alkyl)</text>
        <text x={1780} y={344} textAnchor="middle" fontSize={50} fontFamily={FONT}>C – H</text>
        <Cm x={1682} y={424} value="700" size={52} />
        <Arrow x1={1765} y1={449} x2={1773} y2={523} />

        {/* inset 3 annotations */}
        <text x={2105} y={252} textAnchor="middle" fontSize={50} fontFamily={FONT}>C = O</text>
        <text x={2105} y={300} textAnchor="middle" fontSize={36} fontFamily={FONT}>(ester)</text>
        <Cm x={2513} y={344} value="1715" size={52} />
        <Arrow x1={2515} y1={277} x2={2447} y2={237} />
        <Cm x={2534} y={588} value="1720" size={52} />
        <Arrow x1={2505} y1={590} x2={2411} y2={650} />
        <Cm x={2034} y={640} value="1728" size={52} />
        <Arrow x1={2220} y1={660} x2={2364} y2={682} />
        <text x={3153} y={241} textAnchor="middle" fontSize={50} fontFamily={FONT}>C – O – C</text>
        <text x={3153} y={299} textAnchor="middle" fontSize={36} fontFamily={FONT}>(ether)</text>
        <Cm x={2991} y={508} value="1275" size={52} />
        <Arrow x1={3158} y1={429} x2={3205} y2={369} />
      </svg>
    </div>
  );
}
